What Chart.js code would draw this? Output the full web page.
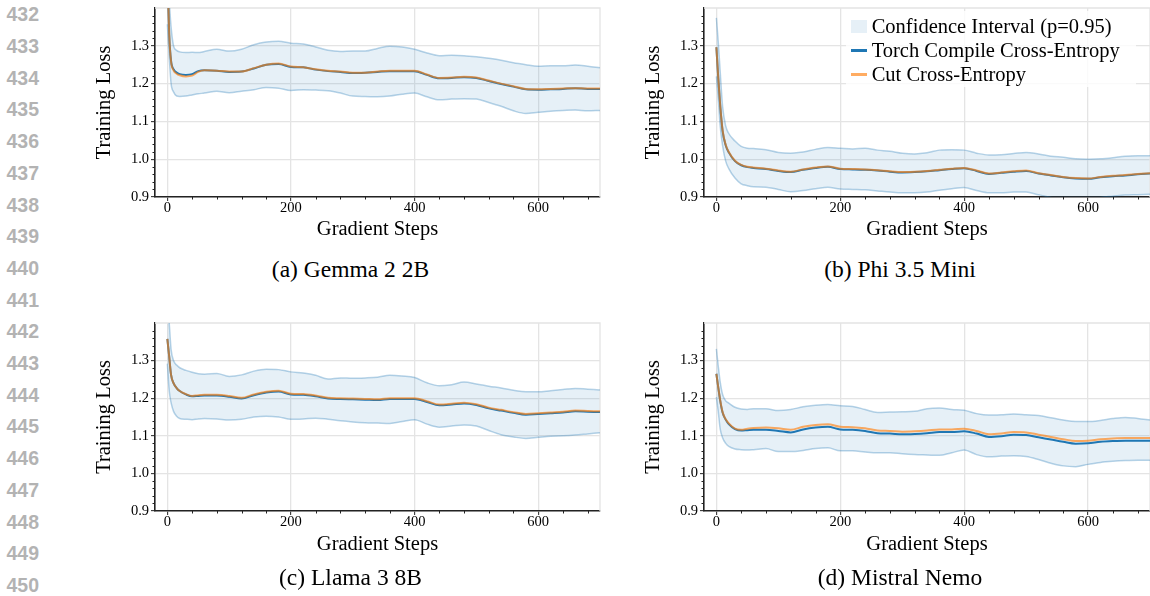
<!DOCTYPE html>
<html>
<head>
<meta charset="utf-8">
<script src="https://cdn.jsdelivr.net/npm/chart.js@4.4.1/dist/chart.umd.min.js"></script>
<style>
  body { margin: 0; background: #fff; }
  #page { position: relative; width: 1150px; height: 596px; overflow: hidden; font-family: 'Liberation Serif', 'Times New Roman', serif; }
  canvas { position: absolute; }
  .lineno { position: absolute; left: 0; width: 39px; height: 20px; line-height: 20px; text-align: right;
            font: bold 19.5px 'Liberation Sans', Arial, sans-serif; color: #b3b3b3; }
  .caption { position: absolute; width: 300px; height: 24px; line-height: 24px; text-align: center; font-size: 23.5px; color: #000; }
  #legend { position: absolute; left: 846px; top: 11px; width: 290px; height: 76px; padding-top: 3.4px; box-sizing: border-box;
            background: rgba(255,255,255,0.8); font-size: 20.5px; color: #000; }
  #legend .item { display: flex; align-items: center; height: 24px; line-height: 24px; white-space: nowrap; }
  #legend .key { display: inline-block; width: 16px; margin-left: 5.3px; margin-right: 4.4px; }
</style>
</head>
<body>
<div id="page">
  <canvas id="gemma" width="520" height="250" style="left:90px; top:0px"></canvas>
  <canvas id="phi" width="511" height="250" style="left:639px; top:0px"></canvas>
  <canvas id="llama" width="520" height="250" style="left:90px; top:315px"></canvas>
  <canvas id="nemo" width="511" height="250" style="left:639px; top:315px"></canvas>
  <div id="legend"></div>
</div>
<script>
// x positions (gradient steps) shared by every series
const STEPS = [0, 3, 6, 10, 15, 20, 30, 40, 50, 60, 80, 100, 120, 140, 160, 180, 200, 220, 240, 260, 280,
  300, 320, 340, 360, 380, 400, 420, 440, 460, 480, 500, 520, 540, 560, 580, 600, 620, 640, 660, 680, 700];
const X_TICKS = [0, 200, 400, 600];
const Y_TICKS = [0.9, 1.0, 1.1, 1.2, 1.3];
const X_MINOR = 40;
const Y_MINOR = 0.02;

// (a) Gemma 2 2B
const GEMMA_TORCH = [1.50, 1.33, 1.26, 1.238, 1.229, 1.225, 1.223, 1.225, 1.233, 1.235, 1.234, 1.231, 1.232, 1.240, 1.250, 1.252, 1.244, 1.243, 1.237, 1.233, 1.231,
  1.228, 1.229, 1.231, 1.233, 1.233, 1.233, 1.223, 1.214, 1.215, 1.217, 1.215, 1.207, 1.199, 1.192, 1.185, 1.184, 1.185, 1.186, 1.188, 1.186, 1.186];
const GEMMA_CUT = [1.50, 1.33, 1.258, 1.235, 1.226, 1.222, 1.219, 1.221, 1.231, 1.235, 1.234, 1.232, 1.232, 1.241, 1.250, 1.253, 1.245, 1.243, 1.238, 1.234, 1.232,
  1.229, 1.229, 1.232, 1.234, 1.234, 1.234, 1.224, 1.215, 1.216, 1.218, 1.216, 1.208, 1.200, 1.193, 1.186, 1.185, 1.186, 1.187, 1.188, 1.187, 1.187];
const GEMMA_HI = [1.50, 1.42, 1.35, 1.30, 1.288, 1.284, 1.282, 1.283, 1.282, 1.285, 1.291, 1.286, 1.291, 1.303, 1.310, 1.312, 1.307, 1.305, 1.297, 1.288, 1.285,
  1.286, 1.286, 1.293, 1.299, 1.297, 1.291, 1.281, 1.274, 1.275, 1.274, 1.271, 1.267, 1.262, 1.255, 1.250, 1.246, 1.247, 1.247, 1.249, 1.246, 1.242];
const GEMMA_LO = [1.357, 1.27, 1.20, 1.178, 1.167, 1.166, 1.167, 1.170, 1.173, 1.175, 1.180, 1.176, 1.180, 1.184, 1.190, 1.188, 1.182, 1.184, 1.183, 1.181, 1.175,
  1.167, 1.166, 1.165, 1.167, 1.172, 1.175, 1.165, 1.157, 1.159, 1.160, 1.159, 1.150, 1.140, 1.128, 1.121, 1.124, 1.127, 1.129, 1.130, 1.128, 1.129];

// (b) Phi 3.5 Mini
const PHI_TORCH = [1.296, 1.215, 1.145, 1.075, 1.037, 1.018, 0.995, 0.984, 0.979, 0.977, 0.974, 0.969, 0.966, 0.972, 0.977, 0.980, 0.974, 0.973, 0.972, 0.970, 0.967,
  0.965, 0.966, 0.968, 0.971, 0.974, 0.976, 0.969, 0.961, 0.964, 0.967, 0.969, 0.962, 0.957, 0.952, 0.949, 0.948, 0.952, 0.955, 0.957, 0.960, 0.962];
const PHI_CUT = [1.296, 1.216, 1.146, 1.077, 1.038, 1.019, 0.996, 0.985, 0.980, 0.978, 0.975, 0.970, 0.967, 0.973, 0.978, 0.981, 0.975, 0.974, 0.973, 0.971, 0.968,
  0.966, 0.967, 0.969, 0.972, 0.975, 0.977, 0.970, 0.962, 0.965, 0.968, 0.970, 0.963, 0.958, 0.953, 0.950, 0.949, 0.953, 0.956, 0.958, 0.961, 0.963];
const PHI_HI = [1.374, 1.31, 1.235, 1.14, 1.088, 1.068, 1.048, 1.034, 1.029, 1.028, 1.025, 1.018, 1.016, 1.019, 1.026, 1.031, 1.029, 1.027, 1.029, 1.024, 1.021,
  1.016, 1.014, 1.017, 1.024, 1.025, 1.024, 1.016, 1.011, 1.012, 1.015, 1.018, 1.014, 1.008, 1.005, 1.001, 1.000, 1.001, 1.004, 1.008, 1.009, 1.009];
const PHI_LO = [1.219, 1.16, 1.09, 1.036, 0.995, 0.975, 0.950, 0.935, 0.930, 0.927, 0.926, 0.920, 0.914, 0.917, 0.922, 0.926, 0.921, 0.920, 0.919, 0.916, 0.913,
  0.911, 0.911, 0.913, 0.918, 0.922, 0.925, 0.917, 0.911, 0.911, 0.913, 0.913, 0.906, 0.899, 0.894, 0.893, 0.895, 0.899, 0.902, 0.905, 0.906, 0.907];

// (c) Llama 3 8B
const LLAMA_TORCH = [1.358, 1.31, 1.262, 1.24, 1.227, 1.219, 1.210, 1.205, 1.206, 1.207, 1.207, 1.204, 1.199, 1.208, 1.215, 1.218, 1.210, 1.209, 1.205, 1.199, 1.198,
  1.197, 1.196, 1.195, 1.198, 1.198, 1.198, 1.190, 1.181, 1.183, 1.186, 1.182, 1.173, 1.167, 1.161, 1.156, 1.158, 1.160, 1.162, 1.165, 1.164, 1.163];
const LLAMA_CUT = [1.358, 1.31, 1.262, 1.24, 1.227, 1.219, 1.211, 1.206, 1.208, 1.209, 1.209, 1.206, 1.201, 1.210, 1.217, 1.220, 1.212, 1.211, 1.207, 1.201, 1.200,
  1.199, 1.198, 1.197, 1.200, 1.200, 1.200, 1.192, 1.183, 1.185, 1.188, 1.184, 1.175, 1.169, 1.163, 1.158, 1.160, 1.162, 1.164, 1.167, 1.166, 1.165];
const LLAMA_HI = [1.46, 1.40, 1.33, 1.30, 1.288, 1.281, 1.274, 1.269, 1.265, 1.264, 1.266, 1.258, 1.262, 1.272, 1.277, 1.276, 1.270, 1.267, 1.261, 1.251, 1.254,
  1.253, 1.254, 1.256, 1.261, 1.259, 1.255, 1.241, 1.233, 1.236, 1.243, 1.238, 1.232, 1.227, 1.221, 1.217, 1.217, 1.220, 1.223, 1.226, 1.224, 1.222];
const LLAMA_LO = [1.292, 1.22, 1.188, 1.165, 1.152, 1.146, 1.144, 1.143, 1.145, 1.146, 1.145, 1.142, 1.144, 1.150, 1.152, 1.150, 1.144, 1.145, 1.147, 1.144, 1.140,
  1.137, 1.135, 1.134, 1.133, 1.138, 1.143, 1.131, 1.123, 1.126, 1.129, 1.126, 1.114, 1.103, 1.097, 1.093, 1.096, 1.099, 1.100, 1.102, 1.105, 1.108];

// (d) Mistral Nemo
const NEMO_TORCH = [1.265, 1.229, 1.195, 1.162, 1.143, 1.131, 1.118, 1.114, 1.115, 1.116, 1.116, 1.113, 1.109, 1.117, 1.122, 1.124, 1.117, 1.116, 1.113, 1.107, 1.106,
  1.104, 1.105, 1.107, 1.110, 1.110, 1.112, 1.106, 1.097, 1.099, 1.103, 1.102, 1.096, 1.090, 1.084, 1.079, 1.080, 1.084, 1.086, 1.087, 1.087, 1.087];
const NEMO_CUT = [1.265, 1.229, 1.196, 1.163, 1.144, 1.133, 1.119, 1.116, 1.119, 1.121, 1.122, 1.120, 1.116, 1.124, 1.129, 1.131, 1.124, 1.123, 1.120, 1.114, 1.113,
  1.111, 1.112, 1.114, 1.117, 1.117, 1.119, 1.113, 1.104, 1.106, 1.110, 1.109, 1.103, 1.097, 1.091, 1.086, 1.087, 1.091, 1.093, 1.094, 1.094, 1.094];
const NEMO_HI = [1.331, 1.285, 1.245, 1.21, 1.193, 1.187, 1.176, 1.171, 1.170, 1.172, 1.172, 1.167, 1.170, 1.177, 1.181, 1.183, 1.180, 1.178, 1.170, 1.162, 1.163,
  1.164, 1.165, 1.172, 1.174, 1.170, 1.168, 1.159, 1.155, 1.156, 1.158, 1.156, 1.154, 1.148, 1.142, 1.138, 1.138, 1.141, 1.146, 1.149, 1.146, 1.142];
const NEMO_LO = [1.203, 1.165, 1.12, 1.095, 1.08, 1.072, 1.065, 1.063, 1.062, 1.063, 1.066, 1.058, 1.058, 1.061, 1.066, 1.068, 1.060, 1.060, 1.057, 1.055, 1.055,
  1.052, 1.050, 1.049, 1.048, 1.055, 1.062, 1.050, 1.044, 1.046, 1.047, 1.045, 1.037, 1.027, 1.020, 1.018, 1.024, 1.029, 1.032, 1.034, 1.035, 1.035];

const CAPTIONS = ['(a) Gemma 2 2B', '(b) Phi 3.5 Mini', '(c) Llama 3 8B', '(d) Mistral Nemo'];
const FIRST_LINE = 432, LAST_LINE = 450;

const BLUE = '#1f77b4';
const ORANGE = 'rgba(255,127,14,0.65)';
const CI_LINE = 'rgba(31,119,180,0.32)';
const CI_FILL = 'rgba(31,119,180,0.11)';
const GRID = '#e4e4e4';
const AXIS = '#222';

Chart.defaults.font.family = "'Liberation Serif', 'Times New Roman', serif";
Chart.defaults.color = '#000';

// top/right light spines plus the small minor ticks matplotlib draws
const axisDecor = {
    id: 'axisDecor',
    beforeDatasetsDraw(chart) {
        const { ctx, chartArea: a, scales: { x, y } } = chart;
        ctx.save();
        ctx.strokeStyle = GRID;
        ctx.lineWidth = 1.3;
        ctx.beginPath();
        ctx.moveTo(a.left, a.top);
        ctx.lineTo(a.right, a.top);
        ctx.lineTo(a.right, a.bottom);
        ctx.stroke();

        ctx.strokeStyle = AXIS;
        ctx.lineWidth = 1;
        ctx.beginPath();
        for (let v = 0; v <= x.max; v += X_MINOR) {
            if (X_TICKS.includes(v)) continue;
            const px = Math.round(x.getPixelForValue(v)) + 0.5;
            ctx.moveTo(px, a.bottom);
            ctx.lineTo(px, a.bottom + 2.5);
        }
        const n = Math.round((y.max - y.min) / Y_MINOR);
        for (let i = 1; i <= n; i++) {
            if (i % 5 === 0) continue;
            const py = Math.round(y.getPixelForValue(y.min + i * Y_MINOR)) + 0.5;
            ctx.moveTo(a.left - 2.5, py);
            ctx.lineTo(a.left, py);
        }
        ctx.stroke();
        ctx.restore();
    }
};

const pts = ys => STEPS.map((x, i) => ({ x, y: ys[i] }));

function makeChart(id, torch, cut, hi, lo, geom) {
    return new Chart(document.getElementById(id), {
        type: 'line',
        data: {
            datasets: [
                { label: '', data: pts(lo), borderColor: CI_LINE, borderWidth: 1.5, fill: false, order: 3 },
                { label: 'Confidence Interval (p=0.95)', data: pts(hi), borderColor: CI_LINE, borderWidth: 1.5,
                  fill: '-1', backgroundColor: CI_FILL, order: 2 },
                { label: 'Torch Compile Cross-Entropy', data: pts(torch), borderColor: BLUE, borderWidth: 2, order: 1 },
                { label: 'Cut Cross-Entropy', data: pts(cut), borderColor: ORANGE, borderWidth: 2, order: 0 }
            ]
        },
        options: {
            responsive: false,
            animation: false,
            events: [],
            layout: { padding: { top: geom.padTop, right: geom.padRight, left: 0, bottom: 0 } },
            elements: {
                point: { radius: 0 },
                line: { cubicInterpolationMode: 'monotone' }
            },
            plugins: {
                legend: { display: false },
                tooltip: { enabled: false },
                filler: { drawTime: 'beforeDatasetsDraw' }
            },
            scales: {
                x: {
                    type: 'linear',
                    min: -20,
                    max: 700,
                    afterBuildTicks: s => { s.ticks = X_TICKS.map(v => ({ value: v })); },
                    afterFit: s => { s.height = geom.xAxisH; s.paddingLeft = 0; s.paddingRight = 0; },
                    ticks: { font: { size: 14.5, lineHeight: 1 }, padding: 0, maxRotation: 0, autoSkip: false, callback: v => String(v) },
                    grid: { color: GRID, lineWidth: 1.3, tickColor: AXIS, tickLength: 4, tickWidth: 1 },
                    border: { color: AXIS, width: 1.6 },
                    title: { display: true, text: 'Gradient Steps', font: { size: 20.5, lineHeight: 1.2 }, padding: { top: 0, bottom: 8 } }
                },
                y: {
                    min: 0.9,
                    max: 1.4,
                    afterBuildTicks: s => { s.ticks = Y_TICKS.map(v => ({ value: v })); },
                    afterFit: s => { s.width = 65; s.paddingTop = 0; s.paddingBottom = 0; },
                    ticks: { font: { size: 14.5, lineHeight: 1 }, padding: 2, autoSkip: false, callback: v => v.toFixed(1) },
                    grid: { color: GRID, lineWidth: 1.3, tickColor: AXIS, tickLength: 4, tickWidth: 1 },
                    border: { color: AXIS, width: 1.6 },
                    title: { display: true, text: 'Training Loss', font: { size: 20.5, lineHeight: 1.2 }, padding: { top: 2.3, bottom: 0 } }
                }
            }
        },
        plugins: [axisDecor]
    });
}

const topRow = { padTop: 8, xAxisH: 53 };
const botRow = { padTop: 8, xAxisH: 54 };

makeChart('gemma', GEMMA_TORCH, GEMMA_CUT, GEMMA_HI, GEMMA_LO, { ...topRow, padRight: 10 });
const phi = makeChart('phi', PHI_TORCH, PHI_CUT, PHI_HI, PHI_LO, { ...topRow, padRight: 0 });
makeChart('llama', LLAMA_TORCH, LLAMA_CUT, LLAMA_HI, LLAMA_LO, { ...botRow, padRight: 10 });
makeChart('nemo', NEMO_TORCH, NEMO_CUT, NEMO_HI, NEMO_LO, { ...botRow, padRight: 0 });

// html legend built from the phi chart's datasets
const legendEl = document.getElementById('legend');
phi.data.datasets.filter(d => d.label).forEach(d => {
    const row = document.createElement('div');
    row.className = 'item';
    const key = document.createElement('span');
    key.className = 'key';
    if (d.fill) {
        key.style.height = '12.6px';
        key.style.background = d.backgroundColor;
    } else {
        key.style.height = '2.5px';
        key.style.background = d.borderColor;
    }
    row.appendChild(key);
    row.appendChild(document.createTextNode(d.label));
    legendEl.appendChild(row);
});

// captions under each panel
const page = document.getElementById('page');
const capPos = [[200.5, 256.5], [750, 256.5], [200.5, 565], [750, 565]];
CAPTIONS.forEach((t, i) => {
    const c = document.createElement('div');
    c.className = 'caption';
    c.style.left = capPos[i][0] + 'px';
    c.style.top = capPos[i][1] + 'px';
    c.textContent = t;
    page.appendChild(c);
});

// manuscript line numbers on the left margin
for (let n = FIRST_LINE; n <= LAST_LINE; n++) {
    const d = document.createElement('div');
    d.className = 'lineno';
    d.style.top = (13.3 + 31.7 * (n - FIRST_LINE) - 10) + 'px';
    d.textContent = n;
    page.appendChild(d);
}
</script>
</body>
</html>
